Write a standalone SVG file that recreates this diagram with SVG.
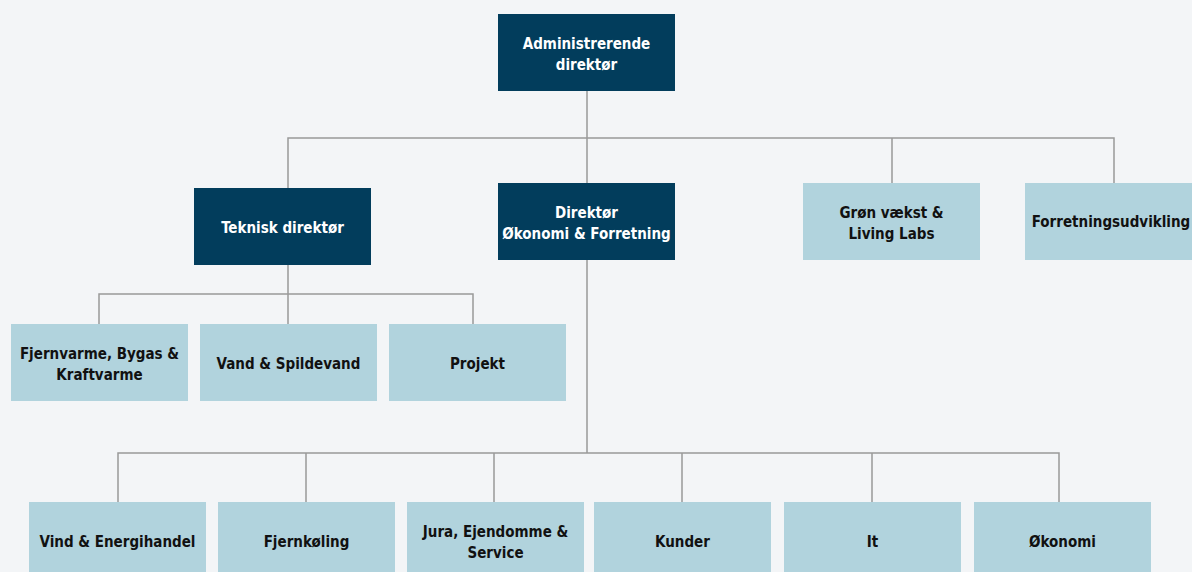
<svg xmlns="http://www.w3.org/2000/svg" width="1192" height="572" viewBox="0 0 1192 572">
<style>
.bg{fill:#f3f5f7}
.dark{fill:#023d5c}
.light{fill:#b1d3dd}
.conn{stroke:#999999;stroke-width:1.5;fill:none}
text{font-family:"DejaVu Sans Condensed","Liberation Sans",sans-serif;font-weight:bold;font-size:15px;text-anchor:middle}
.w{fill:#ffffff}
.k{fill:#111111}
</style>
<rect class="bg" x="0" y="0" width="1192" height="572"/>
<g id="connectors">
<path class="conn" d="M587 91V453M288 188V138H1114V183M892 138V183M288 265V294M99 324V294H473V324M288 294V324M118 502V453H1059V502M306 453V502M494 453V502M682 453V502M872 453V502"/>
</g>
<g id="ceo"><rect class="dark" x="498" y="14" width="177" height="77"/><text class="w" x="586.5" y="49">Administrerende</text><text class="w" x="586.5" y="70">direktør</text></g>
<g id="teknisk"><rect class="dark" x="194" y="188" width="177" height="77"/><text class="w" x="282.5" y="233">Teknisk direktør</text></g>
<g id="oekonomi-dir"><rect class="dark" x="498" y="183" width="177" height="77"/><text class="w" x="586.5" y="218">Direktør</text><text class="w" x="586.5" y="239">Økonomi &amp; Forretning</text></g>
<g id="groen"><rect class="light" x="803" y="183" width="177" height="77"/><text class="k" x="891.5" y="218">Grøn vækst &amp;</text><text class="k" x="891.5" y="239">Living Labs</text></g>
<g id="forretning"><rect class="light" x="1025" y="183" width="177" height="77"/><text class="k" x="1111" y="227">Forretningsudvikling</text></g>
<g id="fjernvarme"><rect class="light" x="11" y="324" width="177" height="77"/><text class="k" x="99.5" y="359">Fjernvarme, Bygas &amp;</text><text class="k" x="99.5" y="380">Kraftvarme</text></g>
<g id="vand"><rect class="light" x="200" y="324" width="177" height="77"/><text class="k" x="288.5" y="369">Vand &amp; Spildevand</text></g>
<g id="projekt"><rect class="light" x="389" y="324" width="177" height="77"/><text class="k" x="477.5" y="369">Projekt</text></g>
<g id="vind"><rect class="light" x="29" y="502" width="177" height="77"/><text class="k" x="117.5" y="547">Vind &amp; Energihandel</text></g>
<g id="fjernkoeling"><rect class="light" x="218" y="502" width="177" height="77"/><text class="k" x="306.5" y="547">Fjernkøling</text></g>
<g id="jura"><rect class="light" x="407" y="502" width="177" height="77"/><text class="k" x="495.5" y="537">Jura, Ejendomme &amp;</text><text class="k" x="495.5" y="558">Service</text></g>
<g id="kunder"><rect class="light" x="594" y="502" width="177" height="77"/><text class="k" x="682.5" y="547">Kunder</text></g>
<g id="it"><rect class="light" x="784" y="502" width="177" height="77"/><text class="k" x="872.5" y="547">It</text></g>
<g id="oekonomi"><rect class="light" x="974" y="502" width="177" height="77"/><text class="k" x="1062.5" y="547">Økonomi</text></g>
</svg>
